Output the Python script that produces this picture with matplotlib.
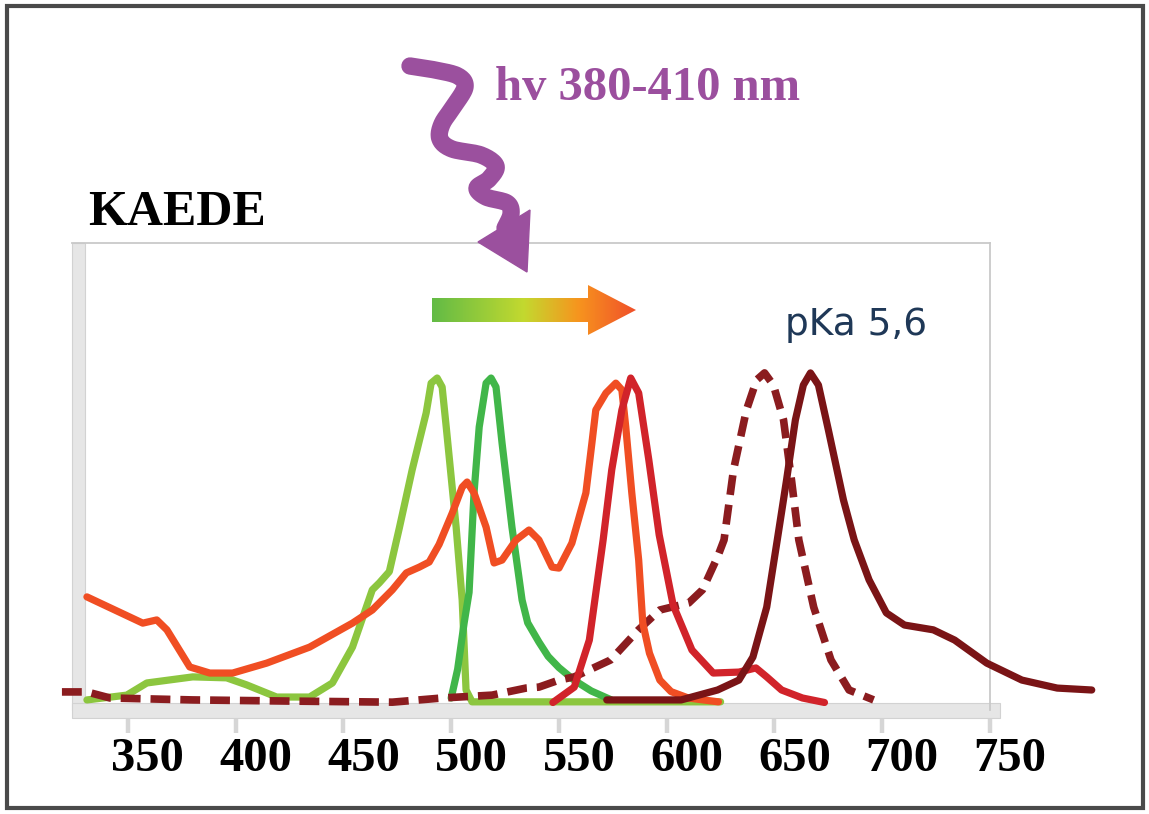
"""KAEDE photoconversion spectra (green -> red), redrawn with matplotlib."""
import matplotlib
matplotlib.use("Agg")
import matplotlib.pyplot as plt
import numpy as np
from matplotlib.colors import LinearSegmentedColormap
from matplotlib.patches import Rectangle, Polygon
from matplotlib.transforms import ScaledTranslation

# wavelength (nm) and normalised intensity
lgreen_x = [331.0, 349.5, 358.8, 380.1, 395.8, 405.1, 419.0, 434.3, 444.9, 454.2, 463.4,
            466.7, 471.3, 475.9, 481.9, 488.4, 490.7, 493.5, 495.8, 497.7, 502.3, 505.1,
            506.9, 509.7, 540.0, 580.0, 625.0]
lgreen_y = [-0.006, 0.009, 0.047, 0.066, 0.063, 0.041, 0.003, 0.003, 0.047, 0.159, 0.338,
            0.36, 0.395, 0.53, 0.713, 0.891, 0.984, 1.0, 0.972, 0.847, 0.534, 0.306,
            0.025, -0.012, -0.012, -0.012, -0.012]

green_x = [500.0, 503.0, 506.0, 508.3, 510.6, 513.0, 516.2, 518.5, 520.8, 523.6, 528.2,
           532.9, 535.5, 540.7, 545.0, 550.0, 557.0, 565.0, 574.0]
green_y = [0.0, 0.09, 0.234, 0.33, 0.641, 0.847, 0.984, 1.0, 0.972, 0.797, 0.534,
           0.306, 0.235, 0.175, 0.13, 0.095, 0.056, 0.022, -0.005]

orange_x = [331.0, 356.9, 363.4, 368.1, 378.7, 388.0, 398.6, 414.4, 434.3, 454.2, 463.4,
            472.7, 479.2, 485.2, 489.8, 494.4, 500.5, 505.1, 507.4, 510.6, 516.2, 519.9,
            523.6, 530.1, 536.1, 540.7, 546.8, 550.0, 556.0, 562.5, 565.3, 567.1, 571.8,
            576.4, 579.2, 581.0, 583.8, 587.0, 588.9, 592.0, 596.8, 602.0, 610.0, 624.0]
orange_y = [0.316, 0.234, 0.244, 0.213, 0.097, 0.078, 0.078, 0.109, 0.159, 0.234, 0.275,
            0.338, 0.391, 0.409, 0.425, 0.48, 0.578, 0.659, 0.675, 0.641, 0.534, 0.422,
            0.431, 0.494, 0.525, 0.494, 0.409, 0.406, 0.484, 0.641, 0.797, 0.9, 0.953,
            0.984, 0.963, 0.847, 0.641, 0.431, 0.234, 0.14, 0.056, 0.02, 0.0, -0.012]

crimson_x = [547.2, 557.1, 564.1, 570.5, 574.5, 579.2, 583.3, 587.0, 591.7, 596.5, 603.0,
             611.7, 621.6, 633.5, 641.4, 646.4, 653.3, 663.0, 673.2]
crimson_y = [-0.014, 0.034, 0.181, 0.494, 0.713, 0.9, 1.0, 0.953, 0.744, 0.51, 0.29,
             0.15, 0.078, 0.081, 0.094, 0.066, 0.025, 0.0, -0.014]

dashed_x = [319.4, 331.0, 341.7, 380.1, 430.0, 472.7, 495.8, 519.0, 534.7, 540.7, 550.0,
            557.1, 574.0, 586.9, 596.8, 610.2, 616.6, 623.6, 626.6, 631.0, 637.0, 641.7,
            645.4, 649.5, 654.2, 657.9, 661.3, 668.2, 676.2, 684.6, 696.0]
dashed_y = [0.019, 0.019, 0.0, -0.006, -0.01, -0.013, 0.0, 0.009, 0.031, 0.034, 0.056,
            0.066, 0.119, 0.213, 0.275, 0.297, 0.338, 0.441, 0.494, 0.713, 0.9, 0.994,
            1.016, 0.978, 0.869, 0.681, 0.494, 0.284, 0.119, 0.025, -0.006]

darkred_x = [572.2, 606.7, 623.6, 633.5, 640.0, 646.4, 651.3, 655.6, 659.7, 663.4, 666.7,
             670.4, 675.0, 682.0, 687.0, 693.9, 701.9, 710.3, 723.7, 733.6, 748.5, 764.8,
             781.2, 797.2]
darkred_y = [-0.006, -0.006, 0.025, 0.056, 0.128, 0.284, 0.494, 0.681, 0.869, 0.978, 1.016,
             0.978, 0.838, 0.619, 0.494, 0.369, 0.266, 0.228, 0.213, 0.181, 0.109, 0.056,
             0.031, 0.025]

ticks = [350, 400, 450, 500, 550, 600, 650, 700, 750]

W, H = 1149, 814
fig = plt.figure(figsize=(W / 100, H / 100), dpi=100)
fig.patch.set_facecolor("white")

# main axes (pixel box 72..990 x 243..710)
ax = fig.add_axes([72 / W, 1 - 710 / H, (990 - 72) / W, (710 - 243) / H])
ax.set_xlim(324.07, 749.07)
ax.set_ylim(-0.0375, 1.422)
ax.set_yticks([])

serif = "Liberation Serif"
lw = 5.2
ax.plot(lgreen_x, lgreen_y, color="#8cc63f", lw=lw, zorder=3, clip_on=False,
        solid_capstyle="round", solid_joinstyle="round")
ax.plot(green_x, green_y, color="#41b649", lw=lw, zorder=3.2, clip_on=False,
        solid_capstyle="round", solid_joinstyle="round")
ax.plot(dashed_x, dashed_y, color="#8b1c1f", lw=5.5, ls=(0, (2.6, 1.3)), zorder=3.4,
        clip_on=False, dash_capstyle="butt")
ax.plot(orange_x, orange_y, color="#f04e23", lw=lw, zorder=3.6, clip_on=False,
        solid_capstyle="round", solid_joinstyle="round")
ax.plot(crimson_x, crimson_y, color="#d1232a", lw=lw, zorder=3.8, clip_on=False,
        solid_capstyle="round", solid_joinstyle="round")
ax.plot(darkred_x, darkred_y, color="#7a1416", lw=lw, zorder=4, clip_on=False,
        solid_capstyle="round", solid_joinstyle="round")

# axis frame: thin top/right, thick pale left and bottom bars
for s in ["left", "bottom"]:
    ax.spines[s].set_visible(False)
for s in ["top", "right"]:
    ax.spines[s].set_color("#c9c9c9")
    ax.spines[s].set_linewidth(1.3)
ax.add_patch(Rectangle((0, 0), 13 / 918, 1, transform=ax.transAxes, fc="#e6e6e6",
                       ec="#d2d2d2", lw=0.8, zorder=2, clip_on=False))
ax.add_patch(Rectangle((0, -8 / 467), 1.011, 15 / 467, transform=ax.transAxes,
                       fc="#e6e6e6", ec="#d2d2d2", lw=0.8, zorder=2, clip_on=False))

ax.set_xticks(ticks)
ax.set_xticklabels([str(t) for t in ticks], fontfamily=serif, fontweight="bold",
                   fontsize=35)
ax.tick_params(axis="x", length=16.5, width=3.2, color="#d6d6d6", pad=3)
for lbl in ax.get_xticklabels():
    lbl.set_transform(lbl.get_transform() + ScaledTranslation(0.2, 0, fig.dpi_scale_trans))

# texts
fig.text(88 / W, 1 - 225 / H, "KAEDE", fontfamily=serif, fontweight="bold",
         fontsize=36, color="black", va="baseline")
fig.text(495 / W, 1 - 100 / H, "hv 380-410 nm", fontfamily=serif, fontweight="bold",
         fontsize=35, color="#9b4f9e", va="baseline")
fig.text(785 / W, 1 - 335 / H, "pKa 5,6", fontfamily="DejaVu Sans", fontsize=27,
         color="#1f3857", va="baseline")

# overlay in pixel coordinates for the decorations
ov = fig.add_axes([0, 0, 1, 1], zorder=5)
ov.patch.set_alpha(0)
ov.axis("off")


def smooth(pts, n=12):
    p = np.asarray(pts, float)
    p = np.vstack([p[0], p, p[-1]])
    out = []
    t = np.linspace(0, 1, n, endpoint=False)[:, None]
    for i in range(1, len(p) - 2):
        p0, p1, p2, p3 = p[i - 1], p[i], p[i + 1], p[i + 2]
        out.append(0.5 * (2 * p1 + (-p0 + p2) * t + (2 * p0 - 5 * p1 + 4 * p2 - p3) * t ** 2
                          + (-p0 + 3 * p1 - 3 * p2 + p3) * t ** 3))
    out.append(p[-2][None])
    return np.vstack(out)


# photon squiggle
squig = smooth([(410, 66), (435, 70), (458, 76), (465, 87), (454, 106), (442, 124),
                (440, 139), (452, 149), (481, 155), (496, 166), (489, 179), (477, 188),
                (486, 197), (507, 203), (511, 214), (505, 228)])
purple = "#9b509e"
ov.plot(squig[:, 0], squig[:, 1], color=purple, lw=12.5, solid_capstyle="round",
        solid_joinstyle="round")
ov.add_patch(Polygon([(478, 242), (530, 210), (527, 272)], closed=True, fc=purple,
                     ec=purple, lw=1))

# gradient arrow
arrow = Polygon([(432, 298), (588, 298), (588, 285), (636, 310), (588, 335), (588, 322),
                 (432, 322)], closed=True, fc="none", ec="none")
ov.add_patch(arrow)
cmap = LinearSegmentedColormap.from_list(
    "shift", [(0, "#62bb46"), (0.45, "#c3d92f"), (0.72, "#f7941e"), (1, "#f0502a")])
grad = np.linspace(0, 1, 256)[None, :]
im = ov.imshow(grad, cmap=cmap, extent=(432, 636, 335, 285), aspect="auto",
               interpolation="bilinear")
im.set_clip_path(arrow)

# outer frame
ov.add_patch(Rectangle((7, 6), 1136, 802, fill=False, lw=3, ec="#4a4a4a"))

ov.set_xlim(0, W)
ov.set_ylim(H, 0)
ov.set_aspect("auto")

fig.savefig("out.png", dpi=100)
